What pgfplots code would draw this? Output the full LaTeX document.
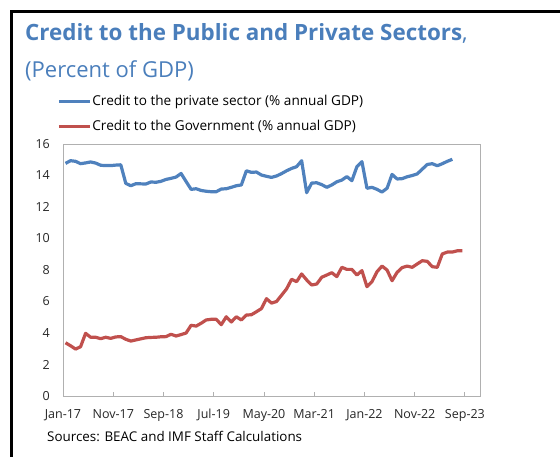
\documentclass[border=0pt]{standalone}
\usepackage{pgfplots}
\pgfplotsset{compat=1.18}
\usepackage{pgfplotstable}
\usepackage{fontspec}
\setmainfont{Open Sans}

\definecolor{titleblue}{RGB}{74,126,187}
\definecolor{privblue}{RGB}{79,129,189}
\definecolor{govred}{RGB}{192,80,77}
\definecolor{framegray}{RGB}{176,176,176}
\definecolor{ticktext}{RGB}{38,38,38}

% months since Jan-17, credit in percent of GDP
\pgfplotstableread{
m priv gov
0 14.77 3.38
1 14.94 3.19
2 14.90 2.98
3 14.75 3.13
4 14.80 3.98
5 14.86 3.73
6 14.79 3.73
7 14.65 3.64
8 14.63 3.73
9 14.63 3.66
10 14.66 3.75
11 14.68 3.77
12 13.50 3.60
13 13.35 3.49
14 13.48 3.56
15 13.47 3.63
16 13.46 3.70
17 13.59 3.72
18 13.57 3.73
19 13.63 3.76
20 13.75 3.77
21 13.82 3.92
22 13.90 3.81
23 14.13 3.90
24 13.62 4.00
25 13.12 4.49
26 13.16 4.44
27 13.05 4.62
28 13.00 4.83
29 12.97 4.87
30 12.97 4.87
31 13.14 4.53
32 13.16 5.03
33 13.25 4.70
34 13.35 5.03
35 13.40 4.83
36 14.30 5.14
37 14.20 5.16
38 14.22 5.35
39 14.03 5.55
40 13.95 6.18
41 13.88 5.90
42 13.97 6.00
43 14.12 6.40
44 14.30 6.80
45 14.45 7.41
46 14.56 7.26
47 14.94 7.75
48 12.91 7.37
49 13.52 7.05
50 13.54 7.11
51 13.42 7.54
52 13.25 7.68
53 13.40 7.83
54 13.60 7.58
55 13.71 8.17
56 13.93 8.04
57 13.67 8.04
58 14.56 7.68
59 14.88 7.96
60 13.19 6.94
61 13.25 7.26
62 13.12 7.89
63 12.95 8.25
64 13.19 8.00
65 14.07 7.32
66 13.78 7.85
67 13.80 8.15
68 13.92 8.25
69 14.00 8.17
70 14.10 8.38
71 14.40 8.59
72 14.70 8.55
73 14.75 8.21
74 14.62 8.17
75 14.75 9.02
76 14.90 9.14
77 15.03 9.14
78 nan 9.22
79 nan 9.22
}\credit

\begin{document}
\begin{tikzpicture}[x=1pt,y=1pt]
\path[use as bounding box] (0,0) rectangle (560,-456);
\draw[line width=3pt] (11,-458) -- (11,-11) -- (562,-11);

\node[anchor=base west, inner sep=0pt, text=titleblue,
      font=\fontsize{22.4}{26}\selectfont] at (25,-40)
      {\textbf{Credit to the Public and Private Sectors},};
\node[anchor=base west, inner sep=0pt, text=titleblue,
      font=\fontsize{22}{26}\selectfont] at (25,-77)
      {(Percent of GDP)};

\begin{axis}[
    at={(63pt,-396pt)}, anchor=south west,
    scale only axis, width=417pt, height=252pt,
    xmin=0, xmax=83, ymin=0, ymax=16,
    axis line style={framegray, line width=0.9pt},
    xtick={0,10,...,80},
    xticklabels={Jan-17,Nov-17,Sep-18,Jul-19,May-20,Mar-21,Jan-22,Nov-22,Sep-23},
    ytick={0,2,...,16},
    xtick style={framegray, line width=0.9pt},
    ytick style={draw=none},
    tick align=inside, major tick length=4pt,
    xtick pos=bottom,
    tick label style={font=\fontsize{12.5}{14}\selectfont, text=ticktext},
    xticklabel style={anchor=base, inner sep=0pt, yshift=-22pt},
    yticklabel style={anchor=east, inner sep=0pt, xshift=-13pt},
    /pgf/number format/assume math mode=true,
    legend style={at={(axis description cs:-0.0144,1.194)}, anchor=north west,
        draw=none, fill=none, inner sep=0pt, column sep=1pt, row sep=12pt,
        font=\fontsize{13.6}{16}\selectfont,
        nodes={inner sep=0pt, text height=10pt, text depth=3pt}},
    legend cell align=left,
    legend image code/.code={\draw[#1] (0pt,0pt) -- (31pt,0pt);},
]
\addplot[privblue, line width=3.2pt, line join=round]
    table[x expr=\thisrow{m}+0.5, y=priv] {\credit};
\addplot[govred, line width=3.2pt, line join=round]
    table[x expr=\thisrow{m}+0.5, y=gov] {\credit};
\legend{Credit to the private sector (\% annual GDP),Credit to the Government (\% annual GDP)}
\end{axis}

\node[anchor=base west, inner sep=0pt, font=\fontsize{13.4}{15}\selectfont]
    at (47,-441) {Sources: BEAC and IMF Staff Calculations};
\end{tikzpicture}
\end{document}
